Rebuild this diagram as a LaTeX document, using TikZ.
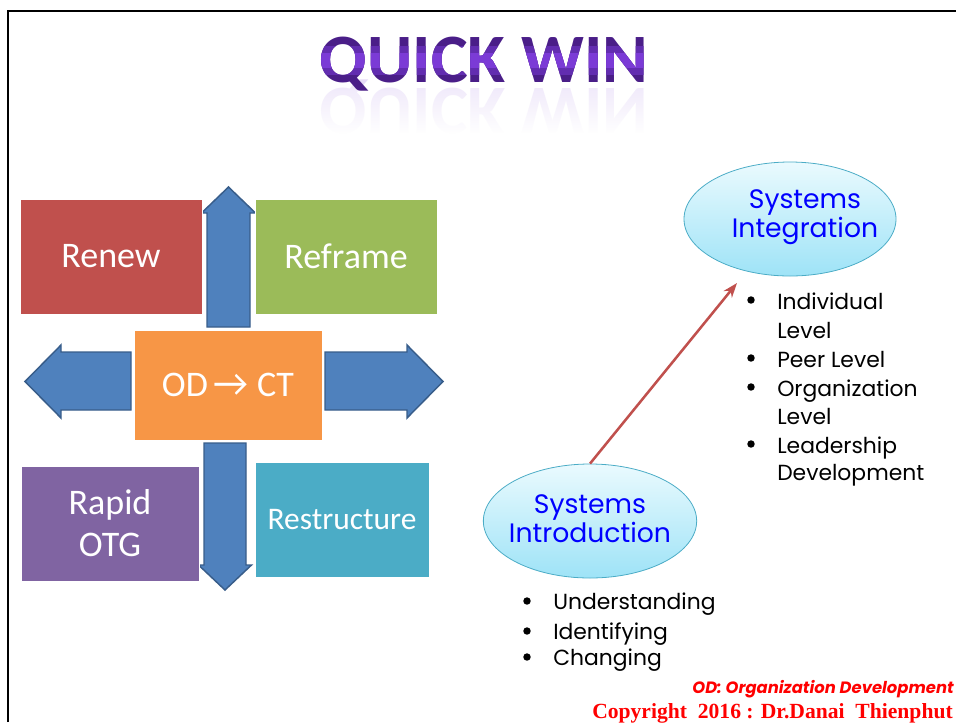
\documentclass[tikz,border=0pt]{standalone}
\usepackage{fontspec}
\setmainfont{Carlito}
\newfontfamily\comicfont{Poppins}
\newfontfamily\copyfont{Liberation Serif}
\usetikzlibrary{arrows.meta,fadings,shapes.geometric}

\definecolor{renewred}{HTML}{C0504D}
\definecolor{reframegreen}{HTML}{9BBB59}
\definecolor{odorange}{HTML}{F79646}
\definecolor{rapidpurple}{HTML}{8064A2}
\definecolor{restructteal}{HTML}{4BACC6}
\definecolor{arrowblue}{HTML}{4F81BD}
\definecolor{arrowedge}{HTML}{385D8A}
\definecolor{titledark}{HTML}{4A1E88}
\definecolor{titlemidtone}{HTML}{622DB0}
\definecolor{titlebright}{HTML}{7B3BD6}
\definecolor{elltop}{HTML}{EAFAFE}
\definecolor{ellbot}{HTML}{9EE3F7}
\definecolor{elledge}{HTML}{4BACC6}
\definecolor{linkred}{HTML}{C0504D}
\definecolor{textblue}{HTML}{0000FF}
\definecolor{footred}{HTML}{FF0000}

% washes the mirrored title out towards its lower edge
\tikzfading[name=whitewash, top color=transparent!60, bottom color=transparent!0]

\begin{document}
\begin{tikzpicture}[x=0.75pt, y=-0.75pt,
  box/.style={draw=white, line width=0.6pt, inner sep=0pt, text=white, align=center,
              font=\fontsize{27}{31.5}\selectfont},
  blockarrow/.style={fill=arrowblue, draw=arrowedge, line width=1.1pt, line join=miter},
  sysell/.style={ellipse, draw=elledge, line width=0.6pt, top color=elltop, bottom color=ellbot, inner sep=0pt},
  systext/.style={text=textblue, font=\comicfont\fontsize{20}{21.5}\selectfont, align=center, inner sep=0pt},
  item/.style={anchor=base west, font=\comicfont\fontsize{16.4}{20}\selectfont, inner sep=0pt},
  dot/.style={circle, fill=black, inner sep=0pt, minimum size=5.6pt},
  titlefont/.style={font=\bfseries\fontsize{52}{56}\selectfont, inner sep=0pt, anchor=base},
  link/.style={draw=linkred, line width=1.9pt, -{Stealth[length=11pt,width=8pt]}}
]
\useasboundingbox (0,0) rectangle (956,722);

% slide frame
\draw[line width=2pt] (8,722) -- (8,11) -- (956,11);

% title reflection, washed out downwards
\begin{scope}[shift={(484,88)}]
  \node[titlefont, text=titlebright!18, yscale=-1, transform shape] (titlemirror) at (0,0) {QUICK WIN};
\end{scope}
\fill[white, path fading=whitewash] (300,86) rectangle (680,134);

% title: dark letters with a lighter band through the middle
\node[titlefont, text=titledark] (title) at (484,82) {QUICK WIN};
\begin{scope}
  \clip (300,46) rectangle (680,74);
  \node[titlefont, text=titlemidtone] (titlemid) at (484,82) {QUICK WIN};
\end{scope}
\begin{scope}
  \clip (300,53) rectangle (680,67);
  \node[titlefont, text=titlebright] (titleglow) at (484,82) {QUICK WIN};
\end{scope}

% block arrows radiating from the centre box
\draw[blockarrow] (207,327) -- (207,213) -- (201.5,213) -- (228.5,187) -- (255.5,213) -- (250,213) -- (250,327) -- cycle;
\draw[blockarrow] (204,443) -- (204,565) -- (198.5,565) -- (225,590) -- (251.5,565) -- (246,565) -- (246,443) -- cycle;
\draw[blockarrow] (131,352) -- (61,352) -- (61,345) -- (25,381.5) -- (61,418) -- (61,410) -- (131,410) -- cycle;
\draw[blockarrow] (325,352) -- (407,352) -- (407,345) -- (443,381.5) -- (407,418) -- (407,410) -- (325,410) -- cycle;

% the five coloured boxes
\node[box, fill=renewred, minimum width=136.5pt, minimum height=86.25pt] (renew) at (111,256.5) {Renew};
\node[box, fill=reframegreen, minimum width=136.5pt, minimum height=86.25pt] (reframe) at (346,256.5) {Reframe};
\node[box, fill=odorange, minimum width=141pt, minimum height=82.5pt] (odct) at (228,385) {OD\,{\fontsize{29}{31}\selectfont →} CT};
\node[box, fill=rapidpurple, minimum width=133.5pt, minimum height=86.25pt] (rapid) at (110,523.5) {Rapid\\OTG};
\node[box, fill=restructteal, minimum width=130.5pt, minimum height=86.25pt,
      font=\fontsize{23.6}{27}\selectfont] (restructure) at (342,519.5) {Restructure};

% systems ellipses
\node[sysell, minimum width=159pt, minimum height=85.5pt] (sysint) at (790,219) {};
\node[systext] (sysintlabel) at (805,217) {Systems\\Integration};
\node[sysell, minimum width=160pt, minimum height=85.5pt] (sysintro) at (590,521) {};
\node[systext] (sysintrolabel) at (590,519) {Systems\\Introduction};

\coordinate (linktip) at (737,283);
\draw[link] (sysintro.north) -- (linktip);

% items under Systems Integration
\node[dot] (b1) at (751,300) {};
\node[item] (i1a) at (777,309) {Individual};
\node[item] (i1b) at (777,338) {Level};
\node[dot] (b2) at (751,358) {};
\node[item] (i2) at (777,367) {Peer Level};
\node[dot] (b3) at (751,387) {};
\node[item] (i3a) at (777,396) {Organization};
\node[item] (i3b) at (777,424) {Level};
\node[dot] (b4) at (751,444) {};
\node[item] (i4a) at (777,453) {Leadership};
\node[item] (i4b) at (777,480) {Development};

% items under Systems Introduction
\node[dot] (c1) at (527,601) {};
\node[item] (u1) at (553,609) {Understanding};
\node[dot] (c2) at (527,631) {};
\node[item] (u2) at (553,639) {Identifying};
\node[dot] (c3) at (527,657) {};
\node[item] (u3) at (553,665) {Changing};

% footer
\node[anchor=base east, inner sep=0pt, text=footred, font=\comicfont\bfseries\itshape\fontsize{12.3}{14}\selectfont]
  (odnote) at (954,693) {OD: Organization Development};
\node[anchor=base east, inner sep=0pt, text=footred, font=\copyfont\bfseries\fontsize{16.2}{18}\selectfont]
  (copyright) at (953,718) {Copyright\ \ 2016 : Dr.Danai\ \ Thienphut};
\end{tikzpicture}
\end{document}
